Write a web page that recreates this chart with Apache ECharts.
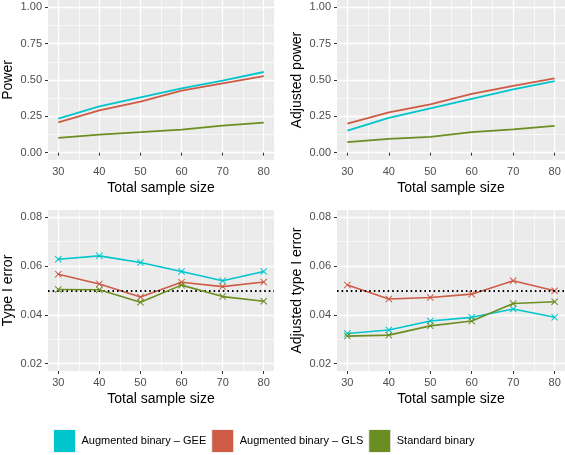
<!DOCTYPE html>
<html><head><meta charset="utf-8">
<script src="https://cdn.jsdelivr.net/npm/echarts@6/dist/echarts.min.js"></script>
<style>html,body{margin:0;padding:0;background:#fff}#c{width:565px;height:455px}</style>
</head><body><div id="c"></div>
<script>
const sampleSizes = [30, 40, 50, 60, 70, 80];
const sampleMinor = [35, 45, 55, 65, 75];
const seriesNames = ['Augmented binary – GEE', 'Augmented binary – GLS', 'Standard binary'];

const powerGEE = [0.234, 0.318, 0.380, 0.443, 0.495, 0.555];
const powerGLS = [0.209, 0.291, 0.352, 0.427, 0.477, 0.527];
const powerStd = [0.102, 0.125, 0.141, 0.159, 0.186, 0.207];

const adjPowerGEE = [0.152, 0.239, 0.305, 0.370, 0.436, 0.493];
const adjPowerGLS = [0.200, 0.277, 0.332, 0.405, 0.459, 0.511];
const adjPowerStd = [0.073, 0.095, 0.109, 0.141, 0.161, 0.184];

const t1GEE = [0.0628, 0.0642, 0.0615, 0.0578, 0.0540, 0.0578];
const t1GLS = [0.0567, 0.0527, 0.0473, 0.0534, 0.0516, 0.0535];
const t1Std = [0.0504, 0.0503, 0.0452, 0.0522, 0.0475, 0.0456];

const adjT1GEE = [0.0324, 0.0338, 0.0375, 0.0390, 0.0424, 0.0390];
const adjT1GLS = [0.0523, 0.0465, 0.0471, 0.0485, 0.0540, 0.0499];
const adjT1Std = [0.0313, 0.0317, 0.0355, 0.0375, 0.0447, 0.0454];

const powerTicks = [0, 0.25, 0.5, 0.75, 1];
const powerMinor = [0.125, 0.375, 0.625, 0.875];
const errorTicks = [0.02, 0.04, 0.06, 0.08];
const errorMinor = [0.03, 0.05, 0.07];
const alphaLevel = 0.05;

const colors = ['#00C5CD', '#CD5B45', '#6B8E23'];
const FONT = '"Liberation Sans", Arial, sans-serif';

const panels = [
  {grid: {left: 46, top: 0, width: 228, height: 160}, title: 'Power', ymin: -0.05, ymax: 1.05, ticks: powerTicks, minor: powerMinor, data: [powerGEE, powerGLS, powerStd], marks: false},
  {grid: {left: 337, top: 0, width: 228, height: 160}, title: 'Adjusted power', ymin: -0.05, ymax: 1.05, ticks: powerTicks, minor: powerMinor, data: [adjPowerGEE, adjPowerGLS, adjPowerStd], marks: false},
  {grid: {left: 46, top: 210, width: 228, height: 161}, title: 'Type I error', ymin: 0.017, ymax: 0.083, ticks: errorTicks, minor: errorMinor, data: [t1GEE, t1GLS, t1Std], marks: true},
  {grid: {left: 337, top: 210, width: 228, height: 161}, title: 'Adjusted type I error', ymin: 0.017, ymax: 0.083, ticks: errorTicks, minor: errorMinor, data: [adjT1GEE, adjT1GLS, adjT1Std], marks: true}
];

const grids = [], xAxes = [], yAxes = [], series = [];
const crossPath = 'path://M0,1L1,0L5,4L9,0L10,1L6,5L10,9L9,10L5,6L1,10L0,9L4,5Z';

panels.forEach((p, i) => {
  grids.push(Object.assign({show: true, backgroundColor: '#EBEBEB', borderWidth: 0, containLabel: false}, p.grid));
  xAxes.push({
    type: 'value', gridIndex: i, min: 27.5, max: 82.5, position: 'bottom',
    axisLine: {show: false},
    axisTick: {show: true, length: 3, lineStyle: {color: '#333', width: 1}, customValues: sampleSizes},
    axisLabel: {customValues: sampleSizes, color: '#4D4D4D', fontSize: 11, fontFamily: FONT, margin: 6},
    splitLine: {show: true, lineStyle: {color: '#fff', width: 1.3}},
    name: 'Total sample size', nameLocation: 'middle', nameGap: 21,
    nameTextStyle: {fontSize: 14, color: '#000', fontFamily: FONT}
  });
  xAxes.push({
    type: 'value', gridIndex: i, min: 27.5, max: 82.5, position: 'bottom',
    axisLine: {show: false},
    axisTick: {show: false, customValues: sampleMinor},
    axisLabel: {show: false, customValues: sampleMinor},
    splitLine: {show: true, lineStyle: {color: '#fff', width: 0.6}}
  });
  yAxes.push({
    type: 'value', gridIndex: i, min: p.ymin, max: p.ymax, position: 'left',
    axisLine: {show: false},
    axisTick: {show: true, length: 3, lineStyle: {color: '#333', width: 1}, customValues: p.ticks},
    axisLabel: {customValues: p.ticks, color: '#4D4D4D', fontSize: 11, fontFamily: FONT, margin: 6, formatter: v => v.toFixed(2)},
    splitLine: {show: true, lineStyle: {color: '#fff', width: 1.3}},
    name: p.title, nameLocation: 'middle', nameGap: 33, nameRotate: 90,
    nameTextStyle: {fontSize: 14, color: '#000', fontFamily: FONT}
  });
  yAxes.push({
    type: 'value', gridIndex: i, min: p.ymin, max: p.ymax, position: 'left',
    axisLine: {show: false},
    axisTick: {show: false, customValues: p.minor},
    axisLabel: {show: false, customValues: p.minor},
    splitLine: {show: true, lineStyle: {color: '#fff', width: 0.6}}
  });
  p.data.forEach((vals, k) => {
    const s = {
      type: 'line', name: seriesNames[k], xAxisIndex: 2 * i, yAxisIndex: 2 * i,
      data: sampleSizes.map((x, j) => [x, vals[j]]),
      color: colors[k],
      lineStyle: {color: colors[k], width: p.marks ? 1.6 : 1.8},
      itemStyle: {color: colors[k]},
      showSymbol: p.marks, symbol: crossPath, symbolSize: 7,
      z: 3 + k, silent: true, animation: false
    };
    if (p.marks && k === 0) {
      s.markLine = {
        silent: true, symbol: 'none', label: {show: false},
        lineStyle: {color: '#000', type: [1.6, 3], width: 1.8},
        data: [{yAxis: alphaLevel}]
      };
    }
    series.push(s);
  });
});

const chart = echarts.init(document.getElementById('c'), null, {renderer: 'canvas'});
chart.setOption({
  animation: false,
  backgroundColor: '#fff',
  textStyle: {fontFamily: FONT},
  grid: grids, xAxis: xAxes, yAxis: yAxes, series: series,
  legend: {
    data: seriesNames.map(n => ({name: n, icon: 'rect'})),
    left: 53, top: 429, itemWidth: 22, itemHeight: 23, itemGap: 5,
    textStyle: {fontSize: 11, color: '#000', fontFamily: FONT, padding: [0, 0, 0, 1]},
    itemStyle: {borderColor: '#F2F2F2', borderWidth: 1},
    selectedMode: false, padding: 0
  }
});
</script></body></html>
